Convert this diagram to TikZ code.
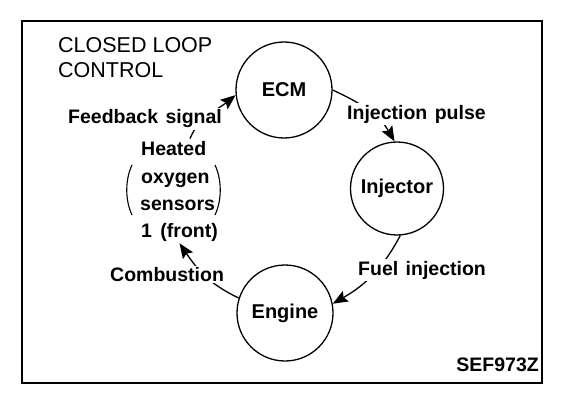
\documentclass[tikz,border=0pt]{standalone}
\usepackage{fontspec}
\setmainfont{Liberation Sans}
\usetikzlibrary{arrows.meta}
\begin{document}
\begin{tikzpicture}[x=1pt,y=1pt,
  unit/.style={circle, draw, line width=1.3pt, minimum size=96pt, inner sep=0pt,
    font=\fontsize{20}{24}\selectfont\bfseries},
  lbl/.style={anchor=base west, fill=white, inner sep=1.5pt,
    font=\fontsize{19.5}{23}\selectfont\bfseries},
  sens/.style={anchor=base west, inner sep=2pt,
    font=\fontsize{19.5}{23}\selectfont\bfseries},
  ttl/.style={anchor=base west, inner sep=0pt,
    font=\fontsize{21.5}{26}\selectfont},
  conn/.style={line width=1.3pt, -{Stealth[length=15pt,width=12pt,inset=2.5pt]}},
  paren/.style={line width=1.1pt},
  ]
\useasboundingbox (0,0) rectangle (576,416);
\draw[line width=2pt] (22,33) rectangle (542,395);
% title
\node[ttl] (t1) at (58,363) {CLOSED LOOP};
\node[ttl] (t2) at (58,338) {CONTROL};
% units
\node[unit] (ecm) at (284,326) {ECM};
\node[unit, minimum size=93pt] (inj) at (397,227.5) {Injector};
\node[unit] (eng) at (285,103) {Engine};
% sensor text
\node[sens] (s1) at (139,261) {Heated};
\node[sens] (s2) at (139,233) {oxygen};
\node[sens] (s3) at (138,206) {sensors};
\node[sens] (s4) at (139,179) {1\hspace{3pt} (front)};
% parentheses
\draw[paren] (132,251) .. controls (125,236) and (125,216) .. (132,201);
\draw[paren] (215,251) .. controls (222,236) and (222,216) .. (215,201);
% connectors
\draw[conn] (ecm.0) to[out=-25,in=120] (inj.93);
\draw[conn] (inj.-86) to[out=-118,in=30] (eng.11);
\draw[conn] (eng.162) to[out=155,in=-56] (s4.south);
\draw[conn] (s1.30) to[out=67,in=-141] (ecm.186);
% labels
\node[lbl] (l1) at (66.5,292) {Feedback\hspace{2pt} signal};
\node[lbl] (l2) at (345.5,297) {Injection\hspace{2pt} pulse};
\node[lbl] (l3) at (356.5,141) {Fuel\hspace{2pt} injection};
\node[lbl] (l4) at (108.5,134.3) {Combustion};
\node[anchor=base east, inner sep=0pt, font=\fontsize{19.5}{23}\selectfont\bfseries] (code) at (539,45) {SEF973Z};
\end{tikzpicture}
\end{document}
